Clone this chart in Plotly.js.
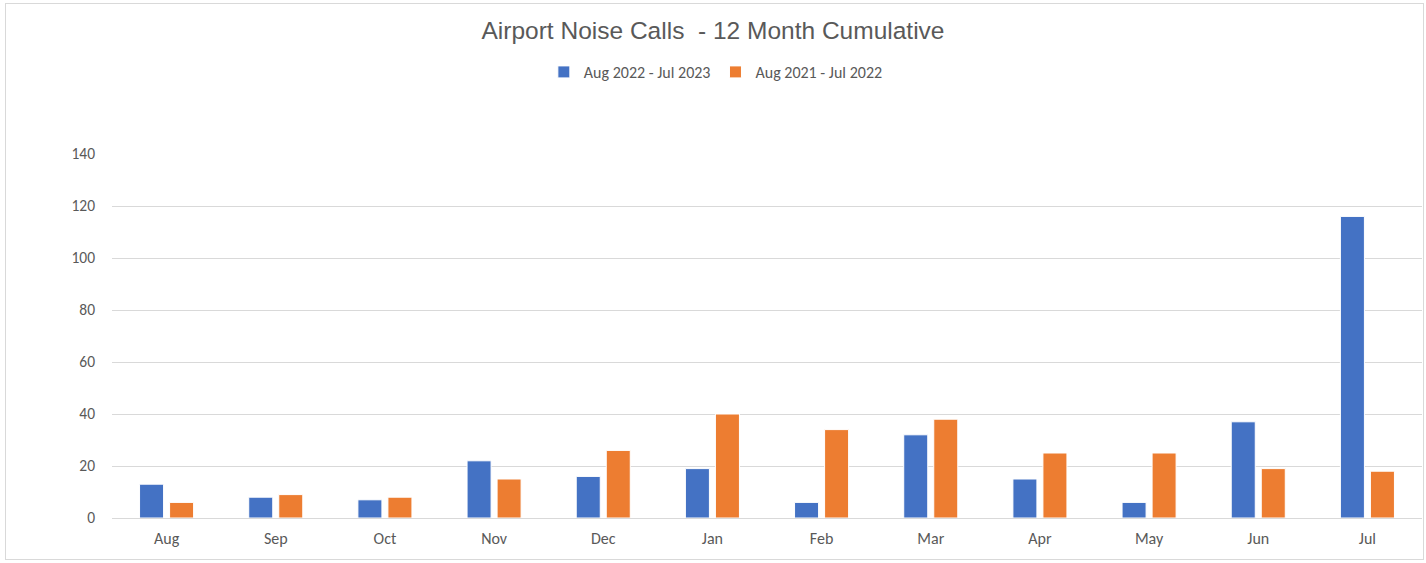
<!DOCTYPE html>
<html>
<head>
<meta charset="utf-8">
<script src="https://cdn.plot.ly/plotly-3.0.1.min.js"></script>
<style>
  html, body { margin: 0; padding: 0; background: #ffffff; }
  #wrap { position: relative; width: 1426px; height: 563px; }
  #chart { width: 1426px; height: 563px; }
  #frame { position: absolute; left: 5px; top: 3px; width: 1417px; height: 555px;
           border: 1px solid #d9d9d9; pointer-events: none; }
</style>
</head>
<body>
<div id="wrap">
  <div id="chart"></div>
  <div id="frame"></div>
</div>
<script>
const months = ["Aug", "Sep", "Oct", "Nov", "Dec", "Jan", "Feb", "Mar", "Apr", "May", "Jun", "Jul"];
const series2023Name = "Aug 2022 - Jul 2023";
const series2023 = [13, 8, 7, 22, 16, 19, 6, 32, 15, 6, 37, 116];
const series2022Name = "Aug 2021 - Jul 2022";
const series2022 = [6, 9, 8, 15, 26, 40, 34, 38, 25, 25, 19, 18];
const yTicks = [0, 20, 40, 60, 80, 100, 120, 140];

const textColor = "#595959";
const bodyFont = "Carlito, Lato, 'Liberation Sans', sans-serif";

const traces = [
  { type: "bar", name: series2023Name, x: months, y: series2023,
    marker: { color: "#4472C4", line: { color: "#ffffff", width: 1 } }, hoverinfo: "x+y" },
  { type: "bar", name: series2022Name, x: months, y: series2022,
    marker: { color: "#ED7D31", line: { color: "#ffffff", width: 1 } }, hoverinfo: "x+y" }
];

const layout = {
  width: 1426, height: 563,
  margin: { l: 112, r: 4, t: 154, b: 45 },
  paper_bgcolor: "#ffffff", plot_bgcolor: "#ffffff",
  barmode: "group", bargap: 0.45, bargroupgap: 0.2,
  showlegend: true,
  title: {
    text: "Airport Noise Calls  - 12 Month Cumulative",
    font: { family: "'Liberation Sans', sans-serif", size: 24.5, color: textColor },
    xref: "container", x: 0.5, xanchor: "center",
    yref: "container", y: 1 - 30 / 563, yanchor: "middle"
  },
  legend: {
    orientation: "h", xref: "container", x: 0.502, xanchor: "center",
    yref: "container", y: 1 - 72 / 563, yanchor: "middle",
    font: { family: bodyFont, size: 16, color: textColor },
    itemwidth: 30, tracegroupgap: 0
  },
  xaxis: {
    type: "category", showgrid: false, showline: false, ticks: "",
    tickfont: { family: bodyFont, size: 16, color: textColor },
    ticklabelstandoff: 9, fixedrange: true
  },
  yaxis: {
    range: [0, 140], tickvals: yTicks, ticktext: yTicks.map(String),
    showgrid: true, gridcolor: "#d9d9d9", gridwidth: 1,
    zeroline: true, zerolinecolor: "#d9d9d9", zerolinewidth: 1,
    showline: false, ticks: "",
    tickfont: { family: bodyFont, size: 15.5, color: textColor },
    ticklabelstandoff: 16, fixedrange: true
  }
};

Plotly.newPlot("chart", traces, layout, { displayModeBar: false, staticPlot: true });
</script>
</body>
</html>
